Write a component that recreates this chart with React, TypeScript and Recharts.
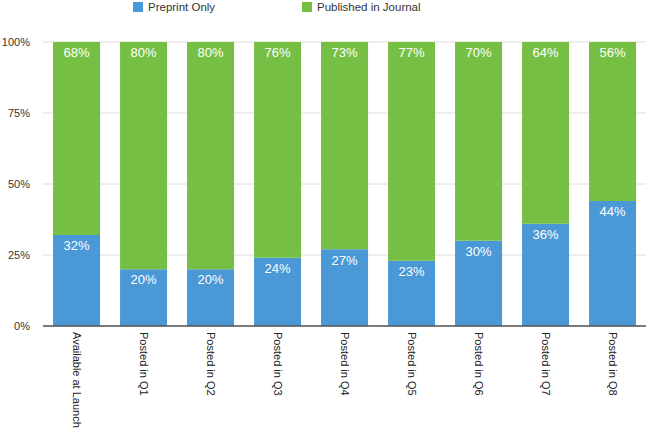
import { BarChart, Bar, XAxis, YAxis, CartesianGrid, LabelList } from 'recharts';

const categories = [
  'Available at Launch',
  'Posted in Q1',
  'Posted in Q2',
  'Posted in Q3',
  'Posted in Q4',
  'Posted in Q5',
  'Posted in Q6',
  'Posted in Q7',
  'Posted in Q8',
];
const preprintOnly = [32, 20, 20, 24, 27, 23, 30, 36, 44];
const publishedInJournal = [68, 80, 80, 76, 73, 77, 70, 64, 56];
const yTicks = [0, 25, 50, 75, 100];

const BLUE = '#4a98d6';
const GREEN = '#76bf45';

const data = categories.map((name, i) => ({
  name,
  preprint: preprintOnly[i],
  published: publishedInJournal[i],
}));

const XTick = ({ x, y, payload }: any) => (
  <text
    transform={`translate(${x - 4},${y - 2}) rotate(90)`}
    textAnchor="start"
    fontSize={11}
    fill="#222"
    fontFamily="Liberation Sans, Arial, sans-serif"
  >
    {payload.value}
  </text>
);

const legendItems = [
  { label: 'Preprint Only', color: BLUE, left: 133 },
  { label: 'Published in Journal', color: GREEN, left: 302 },
];

export default function App() {
  return (
    <div style={{ position: 'absolute', left: 0, top: 0, width: 647, height: 432, background: '#fff' }}>
      {legendItems.map((it) => (
        <div
          key={it.label}
          style={{
            position: 'absolute',
            left: it.left,
            top: 0,
            display: 'flex',
            alignItems: 'center',
            height: 14,
            fontFamily: 'Liberation Sans Narrow, Arial, sans-serif',
            fontSize: 11.5,
            color: '#333',
          }}
        >
          <span style={{ width: 10, height: 10, background: it.color, marginRight: 5 }} />
          {it.label}
        </div>
      ))}
      <BarChart
        width={647}
        height={432}
        data={data}
        margin={{ top: 42, right: 1, left: 0, bottom: 0 }}
        barCategoryGap="15%"
      >
        <CartesianGrid vertical={false} stroke="#dcdcdc" />
        <XAxis
          dataKey="name"
          height={106}
          tick={<XTick />}
          tickLine={false}
          axisLine={{ stroke: '#555', strokeWidth: 1.5 }}
          interval={0}
        />
        <YAxis
          width={43}
          domain={[0, 100]}
          ticks={yTicks}
          tickFormatter={(v: number) => `${v}%`}
          axisLine={false}
          tickLine={false}
          tickSize={0}
          tickMargin={13}
          tick={{ fontSize: 11, fill: '#333', fontFamily: 'Liberation Sans Narrow, Arial, sans-serif' }}
        />
        <Bar dataKey="preprint" stackId="a" fill={BLUE} isAnimationActive={false}>
          <LabelList
            dataKey="preprint"
            position="insideTop"
            offset={6}
            formatter={(v: number) => `${v}%`}
            fill="#fff"
            fontSize={13}
            fontFamily="Liberation Sans, Arial, sans-serif"
          />
        </Bar>
        <Bar dataKey="published" stackId="a" fill={GREEN} isAnimationActive={false}>
          <LabelList
            dataKey="published"
            position="insideTop"
            offset={6}
            formatter={(v: number) => `${v}%`}
            fill="#fff"
            fontSize={13}
            fontFamily="Liberation Sans, Arial, sans-serif"
          />
        </Bar>
      </BarChart>
    </div>
  );
}
